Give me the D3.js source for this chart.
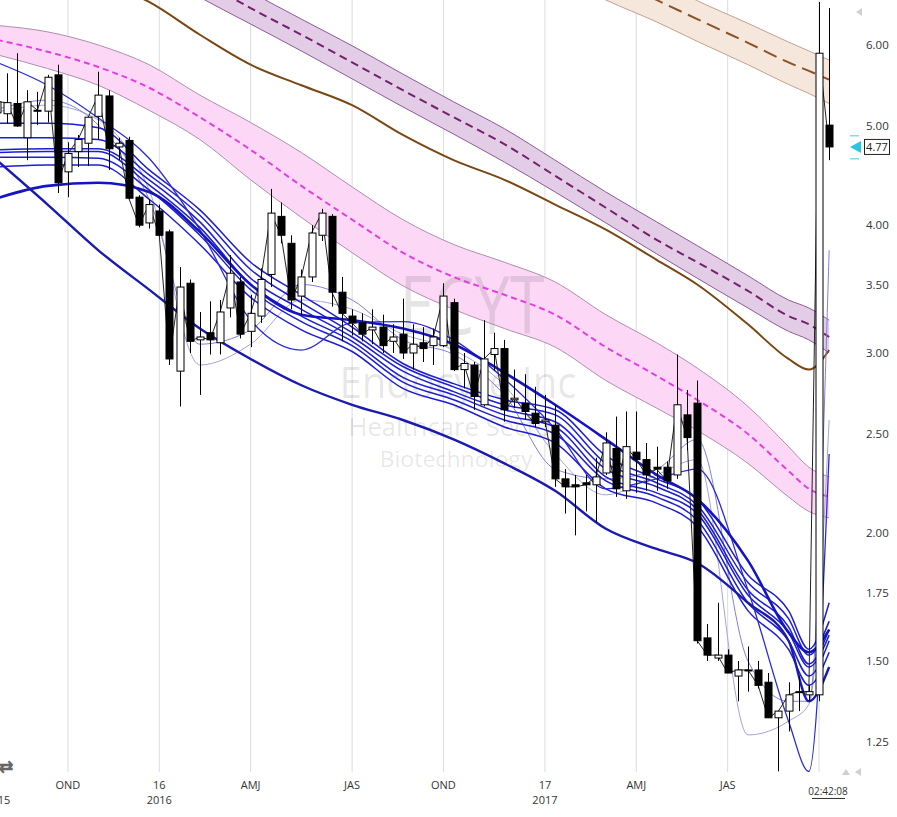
<!DOCTYPE html>
<html>
<head>
<meta charset="utf-8">
<script src="https://cdn.jsdelivr.net/npm/d3@7"></script>
<style>
body { margin: 0; background: #fff; }
svg { display: block; font-family: "Open Sans", "Noto Sans", sans-serif; }
</style>
</head>
<body>
<svg id="chart" width="897" height="817"></svg>
<script>
// ---- candles (index -1 .. 81) ----
var firstIdx = -1;
var open = [
  5.15, 5.14, 5.26, 4.87, 5.17, 5.17, 5.61, 4.51, 4.72, 4.81,
  5.11, 5.35, 4.77, 4.84, 4.26, 4.02, 4.13, 3.94, 2.88, 3.51,
  3.09, 3.14, 3.07, 3.32, 3.52, 3.15, 3.26, 3.58, 4.08, 3.84,
  3.41, 3.56, 3.91, 4.08, 3.44, 3.26, 3.21, 3.16, 3.18, 3.08,
  3.13, 3.00, 3.07, 3.05, 3.05, 3.36, 2.89, 2.92, 2.67, 2.99,
  3.03, 2.70, 2.68, 2.62, 2.57, 2.55, 2.26, 2.23, 2.24, 2.23,
  2.29, 2.42, 2.20, 2.40, 2.36, 2.32, 2.32, 2.28, 2.61, 2.68,
  1.58, 1.51, 1.52, 1.45, 1.47, 1.47, 1.43, 1.32, 1.34, 1.40,
  1.39, 1.39, 5.01];
var high = [
  5.36, 5.63, 5.89, 5.42, 5.40, 5.61, 5.74, 4.82, 4.90, 5.10,
  5.65, 5.42, 4.87, 4.88, 4.28, 4.24, 4.19, 3.96, 3.64, 3.54,
  3.29, 3.37, 3.38, 3.74, 3.56, 3.42, 3.63, 4.34, 4.21, 3.91,
  3.62, 4.00, 4.15, 4.10, 3.56, 3.31, 3.28, 3.31, 3.27, 3.20,
  3.39, 3.20, 3.18, 3.17, 3.51, 3.39, 3.00, 2.94, 3.23, 3.14,
  3.09, 2.89, 2.86, 2.78, 2.73, 2.67, 2.31, 2.28, 2.28, 2.37,
  2.51, 2.60, 2.63, 2.63, 2.45, 2.43, 2.35, 2.99, 2.76, 2.82,
  1.63, 1.71, 1.54, 1.50, 1.55, 1.50, 1.46, 1.34, 1.43, 1.45,
  1.42, 6.61, 6.52];
var low = [
  5.09, 5.03, 4.99, 4.63, 5.01, 5.04, 4.30, 4.26, 4.56, 4.57,
  4.85, 4.53, 4.63, 4.24, 3.98, 3.97, 3.90, 2.92, 2.66, 3.00,
  2.73, 2.99, 2.99, 3.25, 3.10, 3.04, 3.21, 3.48, 3.84, 3.31,
  3.27, 3.52, 3.86, 3.33, 3.08, 3.12, 3.08, 3.06, 3.00, 3.00,
  2.96, 2.89, 2.94, 2.92, 3.04, 2.88, 2.77, 2.64, 2.66, 2.88,
  2.57, 2.65, 2.58, 2.54, 2.54, 2.22, 2.09, 1.99, 2.10, 2.05,
  2.28, 2.17, 2.16, 2.19, 2.20, 2.20, 2.21, 2.26, 2.41, 1.56,
  1.50, 1.50, 1.46, 1.37, 1.40, 1.41, 1.32, 1.17, 1.28, 1.34,
  1.37, 1.37, 4.63];
var close = [
  5.28, 5.27, 5.00, 5.28, 5.18, 5.58, 4.40, 4.70, 4.85, 5.10,
  5.36, 4.75, 4.81, 4.25, 4.00, 4.19, 3.91, 2.96, 3.48, 3.08,
  3.11, 3.09, 3.29, 3.59, 3.13, 3.28, 3.54, 4.11, 3.91, 3.38,
  3.56, 3.93, 4.11, 3.44, 3.28, 3.21, 3.13, 3.18, 3.05, 3.11,
  3.00, 3.06, 3.03, 3.11, 3.41, 2.89, 2.93, 2.72, 2.96, 3.03,
  2.64, 2.71, 2.63, 2.56, 2.58, 2.26, 2.22, 2.22, 2.23, 2.27,
  2.45, 2.21, 2.43, 2.36, 2.28, 2.31, 2.25, 2.67, 2.48, 1.57,
  1.52, 1.52, 1.46, 1.47, 1.47, 1.42, 1.32, 1.34, 1.39, 1.40,
  1.40, 5.89, 4.77];

// ---- indicator lines, read at these candle indices ----
var sampleIdx = [-1, 4, 9, 14, 19, 24, 29, 34, 39, 44, 49, 54, 59, 64, 68, 73, 77, 79, 81];

var pinkMid  = [6.07, 5.91, 5.71, 5.45, 5.10, 4.74, 4.37, 4.05, 3.76, 3.56, 3.42, 3.27, 3.04, 2.85, 2.70, 2.50, 2.30, 2.21, 2.17];
var pinkUp   = [6.27, 6.18, 6.00, 5.74, 5.36, 5.04, 4.71, 4.36, 4.05, 3.83, 3.68, 3.52, 3.27, 3.07, 2.90, 2.66, 2.43, 2.32, 2.27];
var pinkLow  = [5.87, 5.69, 5.48, 5.18, 4.85, 4.43, 4.07, 3.76, 3.49, 3.31, 3.17, 3.04, 2.82, 2.65, 2.52, 2.34, 2.17, 2.10, 2.07];

var brownLine = [7.78, 7.36, 6.95, 6.61, 6.14, 5.74, 5.48, 5.24, 4.90, 4.63, 4.43, 4.19, 3.96, 3.70, 3.50, 3.20, 2.96, 2.89, 3.02];

var purpleMid = [8.90, 8.41, 7.91, 7.40, 6.95, 6.52, 6.14, 5.77, 5.42, 5.10, 4.80, 4.47, 4.16, 3.87, 3.68, 3.45, 3.26, 3.20, 3.11];
var purpleUp  = [9.22, 8.72, 8.20, 7.67, 7.20, 6.76, 6.36, 5.99, 5.62, 5.28, 4.97, 4.63, 4.31, 4.03, 3.82, 3.57, 3.38, 3.32, 3.23];
var purpleLow = [8.58, 8.10, 7.65, 7.14, 6.68, 6.29, 5.92, 5.56, 5.22, 4.91, 4.61, 4.31, 4.02, 3.75, 3.55, 3.32, 3.15, 3.09, 3.00];

var tanMid = [null, null, null, null, null, null, null, null, null, null, null, 7.40, 7.01, 6.64, 6.36, 6.03, 5.77, 5.66, 5.55];
var tanUp  = [null, null, null, null, null, null, null, null, null, null, null, 7.74, 7.33, 6.95, 6.63, 6.30, 6.04, 5.92, 5.80];
var tanLow = [null, null, null, null, null, null, null, null, null, null, null, 7.04, 6.64, 6.32, 6.05, 5.74, 5.49, 5.38, 5.26];

var blueSlow = [4.63, 4.19, 3.78, 3.46, 3.17, 2.96, 2.79, 2.67, 2.58, 2.47, 2.34, 2.20, 2.02, 1.93, 1.87, 1.71, 1.57, 1.37, 1.48];
var blueHump = [4.25, 4.37, 4.40, 4.31, 3.94, 3.50, 3.27, 3.23, 3.17, 3.06, 2.87, 2.67, 2.47, 2.28, 2.16, 1.88, 1.60, 1.53, 1.61];
var ribbon1 = [5.03, 5.03, 4.98, 4.53, 4.14, 3.68, 3.42, 3.18, 2.93, 2.80, 2.70, 2.64, 2.38, 2.26, 2.16, 1.82, 1.68, 1.54, 1.71];
var ribbon2 = [4.87, 4.87, 4.85, 4.48, 4.09, 3.62, 3.36, 3.14, 2.91, 2.78, 2.67, 2.61, 2.34, 2.24, 2.13, 1.79, 1.65, 1.52, 1.64];
var ribbon3 = [4.74, 4.75, 4.75, 4.43, 4.03, 3.55, 3.31, 3.11, 2.88, 2.75, 2.64, 2.57, 2.31, 2.22, 2.11, 1.76, 1.62, 1.49, 1.61];
var ribbon4 = [4.71, 4.72, 4.72, 4.38, 3.98, 3.50, 3.26, 3.08, 2.84, 2.73, 2.61, 2.54, 2.27, 2.19, 2.09, 1.74, 1.60, 1.48, 1.59];
var ribbon5 = [4.66, 4.66, 4.65, 4.33, 3.91, 3.46, 3.22, 3.05, 2.81, 2.70, 2.58, 2.50, 2.25, 2.17, 2.06, 1.71, 1.57, 1.45, 1.57];
var ribbon6 = [4.56, 4.58, 4.58, 4.24, 3.83, 3.40, 3.16, 3.01, 2.77, 2.67, 2.54, 2.45, 2.21, 2.14, 2.03, 1.68, 1.54, 1.42, 1.53];
var blueFast = [5.77, 5.48, 5.09, 4.65, 3.96, 3.23, 3.02, 3.21, 3.22, 3.09, 2.83, 2.53, 2.21, 2.26, 2.31, 1.76, 1.31, 1.17, 2.39];
var lavender1 = [5.19, 5.30, 5.01, 4.24, 3.06, 3.16, 3.50, 3.38, 3.09, 2.99, 2.73, 2.31, 2.26, 2.31, 2.47, 1.50, 1.37, 1.37, 3.78];
var lavender2 = [5.16, 5.24, 5.07, 4.33, 2.92, 3.06, 3.38, 3.31, 3.13, 3.02, 2.79, 2.39, 2.18, 2.28, 2.36, 1.27, 1.31, 1.36, 2.58];

// ---- axes ----
var quarterIdx = [6, 15, 24, 34, 43, 53, 62, 71, 80];
var quarterLabels = ["OND", "16", "AMJ", "JAS", "OND", "17", "AMJ", "JAS", ""];
var yearLabels = ["2015", "2016", "2017"];
var yearIdx = [-0.92, 15, 53];
var priceTicks = [6, 5, 4, 3.5, 3, 2.5, 2, 1.75, 1.5, 1.25];
var lastPrice = 4.77;
var clockText = "02:42:08";

var svg = d3.select("#chart");
var x = d3.scaleLinear().domain([-1, 81]).range([-3.15, 829.15]);
var y = d3.scaleLog().domain([1.25, 6]).range([742, 45]);

svg.append("defs").append("clipPath").attr("id", "plot")
  .append("rect").attr("x", 0).attr("y", 0).attr("width", 850).attr("height", 772);

var plot = svg.append("g").attr("clip-path", "url(#plot)");

// grid
plot.selectAll(".vgrid").data(quarterIdx).enter().append("line")
  .attr("x1", function(d) { return x(d); }).attr("x2", function(d) { return x(d); })
  .attr("y1", 0).attr("y2", 772)
  .attr("stroke", "#dcdcdc").attr("stroke-width", 1);

function series(vals) {
  return sampleIdx.map(function(i, k) { return { i: i, v: vals[k] }; });
}
function band(up, lo) {
  return sampleIdx.map(function(i, k) { return { i: i, u: up[k], l: lo[k] }; });
}
var line = d3.line()
  .defined(function(d) { return d.v != null; })
  .x(function(d) { return x(d.i); })
  .y(function(d) { return y(d.v); })
  .curve(d3.curveMonotoneX);
var area = d3.area()
  .defined(function(d) { return d.u != null; })
  .x(function(d) { return x(d.i); })
  .y0(function(d) { return y(d.l); })
  .y1(function(d) { return y(d.u); })
  .curve(d3.curveMonotoneX);

// band fills first
var bands = [
  { up: pinkUp, lo: pinkLow, mid: pinkMid, fill: "#fcd8f6", edge: "#ad8fab", mc: "#e23fe0", dash: "6,4" },
  { up: purpleUp, lo: purpleLow, mid: purpleMid, fill: "#e3cde6", edge: "#8c5a98", mc: "#74206e", dash: "8,5" },
  { up: tanUp, lo: tanLow, mid: tanMid, fill: "#f6e7dc", edge: "#c4a08e", mc: "#8a5226", dash: "14,7" }
];
bands.forEach(function(b) {
  plot.append("path").datum(band(b.up, b.lo)).attr("d", area).attr("fill", b.fill);
});

// watermark sits above the band fills
var wm = plot.append("g").attr("fill", "#000").attr("fill-opacity", 0.1).attr("text-anchor", "middle");
wm.append("text").attr("x", 472).attr("y", 334).attr("font-size", 80).attr("textLength", 145)
  .attr("lengthAdjust", "spacingAndGlyphs").text("ECYT");
wm.append("text").attr("x", 458).attr("y", 398).attr("font-size", 44).attr("textLength", 237)
  .attr("lengthAdjust", "spacingAndGlyphs").text("Endocyte Inc");
wm.append("text").attr("x", 455).attr("y", 436).attr("font-size", 25).attr("textLength", 213)
  .attr("lengthAdjust", "spacingAndGlyphs").text("Healthcare Sector");
wm.append("text").attr("x", 456).attr("y", 467).attr("font-size", 22).attr("textLength", 153)
  .attr("lengthAdjust", "spacingAndGlyphs").text("Biotechnology");

bands.forEach(function(b) {
  [b.up, b.lo].forEach(function(v) {
    plot.append("path").datum(series(v)).attr("d", line)
      .attr("fill", "none").attr("stroke", b.edge).attr("stroke-width", 1);
  });
  plot.append("path").datum(series(b.mid)).attr("d", line)
    .attr("fill", "none").attr("stroke", b.mc).attr("stroke-width", 2)
    .attr("stroke-dasharray", b.dash);
});

plot.append("path").datum(series(brownLine)).attr("d", line)
  .attr("fill", "none").attr("stroke", "#7a4712").attr("stroke-width", 2);

// moving average lines
var maLines = [
  { v: lavender2, c: "#a4a4dc", w: 1 },
  { v: lavender1, c: "#7f7fe2", w: 1 },
  { v: ribbon1, c: "#1d1dd2", w: 1.5 },
  { v: ribbon2, c: "#1d1dd2", w: 1.5 },
  { v: ribbon3, c: "#1d1dd2", w: 1.5 },
  { v: ribbon4, c: "#1d1dd2", w: 1.5 },
  { v: ribbon5, c: "#1d1dd2", w: 1.5 },
  { v: ribbon6, c: "#1d1dd2", w: 1.5 },
  { v: blueFast, c: "#2b2bd6", w: 1.3 },
  { v: blueHump, c: "#1414c2", w: 2.6 },
  { v: blueSlow, c: "#1a1ab0", w: 2.4 }
];
plot.selectAll(".ma").data(maLines).enter().append("path")
  .attr("d", function(d) { return line(series(d.v)); })
  .attr("fill", "none")
  .attr("stroke", function(d) { return d.c; })
  .attr("stroke-width", function(d) { return d.w; });

// candles
var candles = open.map(function(o, k) {
  return { i: k + firstIdx, o: o, h: high[k], l: low[k], c: close[k] };
});

plot.append("path").datum(candles)
  .attr("d", d3.line().x(function(d) { return x(d.i); }).y(function(d) { return y(d.c); }))
  .attr("fill", "none").attr("stroke", "#222").attr("stroke-width", 1);

var cg = plot.selectAll(".candle").data(candles).enter().append("g");
cg.append("line")
  .attr("x1", function(d) { return Math.round(x(d.i)) + 0.5; })
  .attr("x2", function(d) { return Math.round(x(d.i)) + 0.5; })
  .attr("y1", function(d) { return y(d.h); })
  .attr("y2", function(d) { return y(d.l); })
  .attr("stroke", "#000").attr("stroke-width", 1);
cg.append("rect")
  .attr("x", function(d) { return Math.round(x(d.i)) - 3; })
  .attr("width", 7)
  .attr("y", function(d) { return y(Math.max(d.o, d.c)); })
  .attr("height", function(d) { return Math.max(1, Math.abs(y(d.o) - y(d.c))); })
  .attr("fill", function(d) { return d.c >= d.o ? "#fff" : "#000"; })
  .attr("stroke", "#000").attr("stroke-width", 1);

// right price axis
var yAxis = svg.append("g").attr("transform", "translate(862,0)")
  .call(d3.axisRight(y).tickValues(priceTicks).tickSize(0).tickPadding(4)
    .tickFormat(function(d) { return d.toFixed(2); }));
yAxis.select(".domain").remove();
yAxis.selectAll("text").attr("font-size", 11.5).attr("fill", "#333")
  .attr("font-family", "'Open Sans', sans-serif");

// last price marker
svg.append("path").attr("d", "M850,147 L861,141 L861,153 Z").attr("fill", "#27c6e2");
svg.append("rect").attr("x", 850).attr("y", 135).attr("width", 9).attr("height", 1.5).attr("fill", "#7fdcec");
svg.append("rect").attr("x", 850).attr("y", 158).attr("width", 9).attr("height", 1.5).attr("fill", "#7fdcec");
svg.append("rect").attr("x", 864.5).attr("y", y(lastPrice) - 7.5).attr("width", 25).attr("height", 15)
  .attr("fill", "#fff").attr("stroke", "#222").attr("stroke-width", 1);
svg.append("text").attr("x", 877).attr("y", y(lastPrice) + 4).attr("text-anchor", "middle")
  .attr("font-size", 11).attr("fill", "#222").text(lastPrice.toFixed(2));

// bottom time axis
var xg = svg.append("g").attr("font-size", 11).attr("fill", "#333").attr("text-anchor", "middle");
xg.selectAll(".ql").data(quarterIdx).enter().append("text")
  .attr("x", function(d) { return x(d); }).attr("y", 789)
  .text(function(d, k) { return quarterLabels[k]; });
xg.selectAll(".yl").data(yearIdx).enter().append("text")
  .attr("x", function(d) { return x(d); }).attr("y", 804)
  .text(function(d, k) { return yearLabels[k]; });
svg.append("text").attr("x", 828).attr("y", 795).attr("text-anchor", "middle")
  .attr("font-size", 10).attr("fill", "#333").text(clockText);
svg.append("line").attr("x1", 812).attr("x2", 845).attr("y1", 798.5).attr("y2", 798.5)
  .attr("stroke", "#333").attr("stroke-width", 1);

// small interface glyphs
svg.append("path").attr("d", "M856,12 L862,8 L862,16 Z").attr("fill", "#d0d0d0");
svg.append("path").attr("d", "M842,775 L846,769 L850,775 Z").attr("fill", "#d0d0d0");
svg.append("path").attr("d", "M855,772 L861,768 L861,776 Z").attr("fill", "#d0d0d0");
svg.append("text").attr("x", 6).attr("y", 773).attr("text-anchor", "middle")
  .attr("font-size", 17).attr("font-weight", "bold").attr("fill", "#666").text("\u21c4");
</script>
</body>
</html>
